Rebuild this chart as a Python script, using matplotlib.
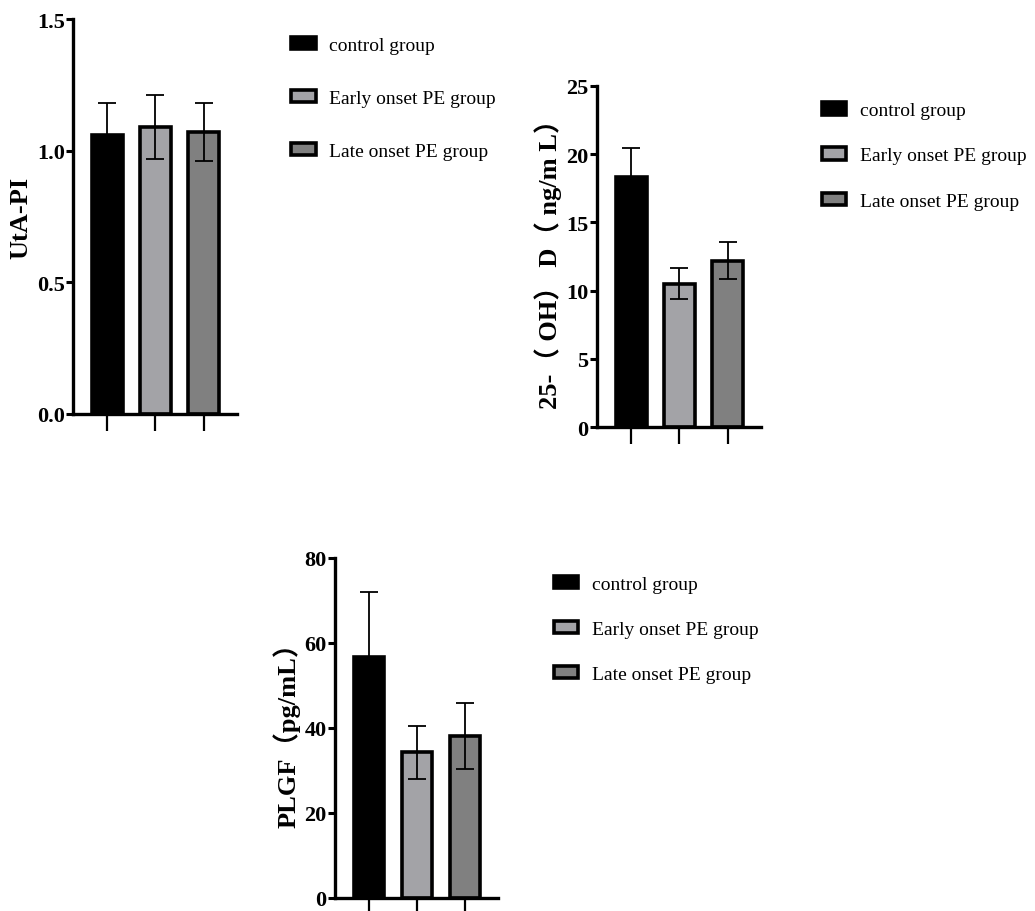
import numpy as np
import matplotlib
matplotlib.use("Agg")
import matplotlib.pyplot as plt
from matplotlib.patches import Patch

plt.rcParams['font.family'] = ['Liberation Serif', 'Noto Sans CJK SC', 'DejaVu Sans']

groups = ["control group", "Early onset PE group", "Late onset PE group"]
colors = ["#000000", "#a3a3a7", "#808080"]

# UtA-PI
uta_mean = [1.06, 1.09, 1.07]
uta_sd = [0.12, 0.12, 0.11]
# 25-(OH)D
vitd_mean = [18.3, 10.5, 12.2]
vitd_sd = [2.15, 1.15, 1.35]
# PLGF
plgf_mean = [56.7, 34.3, 38.1]
plgf_sd = [15.3, 6.2, 7.8]

fig = plt.figure(figsize=(10.35, 9.12), dpi=100)


def draw_panel(rect, means, sds, ylim, yticks, yticklabels, ylabel, legend_anchor, lspace):
    ax = fig.add_axes(rect)
    x = np.arange(len(means))
    ax.bar(x, means, width=0.64, color=colors, edgecolor="black", linewidth=2.6, zorder=2)
    ax.errorbar(x, means, yerr=sds, fmt="none", ecolor="black", elinewidth=1.3,
                capsize=6.5, capthick=1.3, zorder=3)
    ax.set_xlim(-0.71, 2.69)
    ax.set_ylim(*ylim)
    ax.set_yticks(yticks)
    ax.set_yticklabels(yticklabels, fontsize=16, fontweight="bold")
    ax.set_xticks(x)
    ax.set_xticklabels([])
    ax.tick_params(axis="x", direction="out", length=12, width=1.6)
    ax.tick_params(axis="y", direction="out", length=5, width=2.2, pad=1)
    for s in ["top", "right"]:
        ax.spines[s].set_visible(False)
    for s in ["left", "bottom"]:
        ax.spines[s].set_linewidth(2.4)
    ax.set_ylabel(ylabel, fontsize=19, fontweight="bold", labelpad=3)
    handles = [Patch(facecolor=c, edgecolor="black", linewidth=2.6) for c in colors]
    fig.legend(handles, groups, loc="upper left", bbox_to_anchor=legend_anchor,
               frameon=False, fontsize=14, handlelength=1.25, handleheight=0.6,
               handletextpad=0.7, labelspacing=lspace)
    return ax


draw_panel([0.0705, 0.545, 0.1585, 0.433], uta_mean, uta_sd, (0, 1.5),
           [0, 0.5, 1.0, 1.5], ["0.0", "0.5", "1.0", "1.5"], "UtA-PI",
           (0.2645, 0.978), 1.85)
draw_panel([0.5768, 0.5307, 0.1585, 0.374], vitd_mean, vitd_sd, (0, 25),
           [0, 5, 10, 15, 20, 25], ["0", "5", "10", "15", "20", "25"],
           "25-（ OH） D（ ng/m L）", (0.777, 0.906), 1.45)
draw_panel([0.3237, 0.0143, 0.1575, 0.3728], plgf_mean, plgf_sd, (0, 80),
           [0, 20, 40, 60, 80], ["0", "20", "40", "60", "80"],
           "PLGF（pg/mL）", (0.518, 0.387), 1.45)

fig.savefig("out.png", dpi=100)
